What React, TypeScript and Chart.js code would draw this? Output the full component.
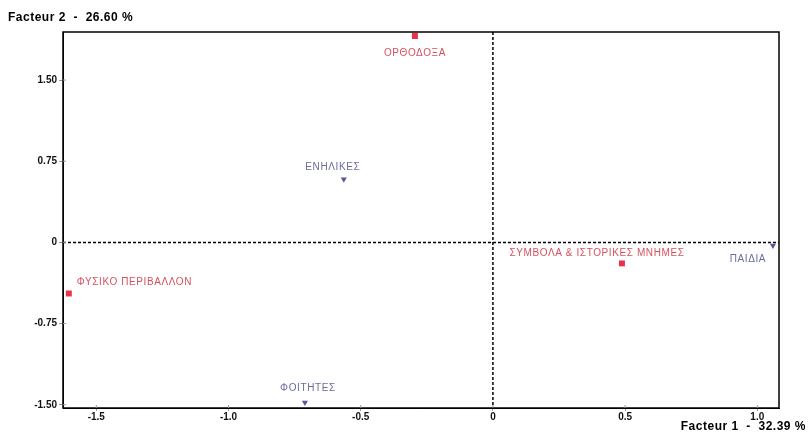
import React, { useEffect, useRef } from "react";
import { Chart, registerables } from "chart.js";
Chart.register(...registerables);

const redLabels = ["ΟΡΘΟΔΟΞΑ", "ΦΥΣΙΚΟ ΠΕΡΙΒΑΛΛΟΝ", "ΣΥΜΒΟΛΑ & ΙΣΤΟΡΙΚΕΣ ΜΝΗΜΕΣ"];
const redX = [-0.295, -1.604, 0.488];
const redY = [1.907, -0.472, -0.194];
const blueLabels = ["ΕΝΗΛΙΚΕΣ", "ΠΑΙΔΙΑ", "ΦΟΙΤΗΤΕΣ"];
const blueX = [-0.564, 1.059, -0.711];
const blueY = [0.583, -0.028, -1.48];
const xTicks = [-1.5, -1.0, -0.5, 0, 0.5, 1.0];
const xTickLabels = ["-1.5", "-1.0", "-0.5", "0", "0.5", "1.0"];
const yTicks = [-1.5, -0.75, 0, 0.75, 1.5];
const yTickLabels = ["-1.50", "-0.75", "0", "0.75", "1.50"];
const xTitle = "Facteur 1  -  32.39 %";
const yTitle = "Facteur 2  -  26.60 %";

// label placement (style): [dx, dy, align]
const redLabelPlace: [number, number, CanvasTextAlign][] = [
  [0, 17, "center"],
  [8, -11, "left"],
  [-25, -10, "center"],
];
const blueLabelPlace: [number, number, CanvasTextAlign][] = [
  [-11, -12, "center"],
  [-25, 14, "center"],
  [3, -14, "center"],
];

const RED = "#e8324c";
const RED_TEXT = "#d8505e";
const BLUE = "#55579a";
const BLUE_TEXT = "#6a6c9e";

export default function App() {
  const ref = useRef<HTMLCanvasElement>(null);
  useEffect(() => {
    document.body.style.margin = "0";
    const overlay = {
      id: "overlay",
      beforeDatasetsDraw(chart: any) {
        const { ctx, chartArea: a, scales } = chart;
        const x0 = scales.x.getPixelForValue(0);
        const y0 = scales.y.getPixelForValue(0);
        ctx.save();
        ctx.strokeStyle = "#000";
        ctx.lineWidth = 1.5;
        ctx.setLineDash([3, 2]);
        ctx.beginPath();
        ctx.moveTo(a.left, y0);
        ctx.lineTo(a.right, y0);
        ctx.moveTo(x0, a.top);
        ctx.lineTo(x0, a.bottom);
        ctx.stroke();
        ctx.setLineDash([]);
        ctx.lineWidth = 1.5;
        ctx.strokeRect(a.left, a.top, a.right - a.left, a.bottom - a.top);
        // small crossing tick marks
        ctx.lineWidth = 1;
        ctx.strokeStyle = "#999";
        ctx.beginPath();
        xTicks.forEach((v) => {
          const px = scales.x.getPixelForValue(v);
          ctx.moveTo(px, a.bottom - 3);
          ctx.lineTo(px, a.bottom);
        });
        yTicks.forEach((v) => {
          const py = scales.y.getPixelForValue(v);
          ctx.moveTo(a.left, py);
          ctx.lineTo(a.left + 3, py);
        });
        ctx.stroke();
        ctx.restore();
      },
      afterDatasetsDraw(chart: any) {
        const { ctx, scales } = chart;
        ctx.save();
        ctx.font = "10px 'Liberation Sans', Arial, sans-serif";
        (ctx as any).letterSpacing = "0.6px";
        ctx.textBaseline = "middle";
        const draw = (labels: string[], xs: number[], ys: number[], place: [number, number, CanvasTextAlign][], color: string) => {
          labels.forEach((t, i) => {
            const px = scales.x.getPixelForValue(xs[i]);
            const py = scales.y.getPixelForValue(ys[i]);
            ctx.fillStyle = color;
            ctx.textAlign = place[i][2];
            ctx.fillText(t, px + place[i][0], py + place[i][1]);
          });
        };
        draw(redLabels, redX, redY, redLabelPlace, RED_TEXT);
        draw(blueLabels, blueX, blueY, blueLabelPlace, BLUE_TEXT);
        ctx.fillStyle = "#000";
        ctx.font = "bold 12px 'Liberation Sans', Arial, sans-serif";
        (ctx as any).letterSpacing = "0.5px";
        ctx.textAlign = "left";
        ctx.fillText(yTitle, 8, 18);
        ctx.textAlign = "right";
        ctx.fillText(xTitle, 806, 427);
        ctx.restore();
      },
    };
    const chart = new Chart(ref.current!, {
      type: "scatter",
      data: {
        datasets: [
          {
            label: "red",
            data: redX.map((x, i) => ({ x, y: redY[i] })),
            pointStyle: "rect",
            pointRadius: 4.2,
            backgroundColor: RED,
            borderColor: RED,
            borderWidth: 0,
            clip: false as any,
          },
          {
            label: "blue",
            data: blueX.map((x, i) => ({ x, y: blueY[i] })),
            pointStyle: "triangle",
            rotation: 180,
            pointRadius: 3.5,
            backgroundColor: BLUE,
            borderColor: BLUE,
            borderWidth: 0,
            clip: false as any,
          },
        ],
      },
      options: {
        animation: false,
        responsive: false,
        layout: { padding: { top: 32, right: 29, left: 0, bottom: 0 } },
        plugins: { legend: { display: false }, tooltip: { enabled: false } },
        scales: {
          x: {
            type: "linear",
            min: -1.626,
            max: 1.082,
            afterBuildTicks: (s: any) => {
              s.ticks = xTicks.map((v) => ({ value: v }));
            },
            afterFit: (s: any) => {
              s.height = 35;
            },
            ticks: {
              callback: (_v: any, i: number) => xTickLabels[i],
              color: "#111",
              font: { family: "'Liberation Sans', Arial, sans-serif", size: 10, weight: "bold" },
              padding: 0,
              maxRotation: 0,
            },
            grid: { drawOnChartArea: false, drawTicks: true, tickLength: 3, color: "#999" },
            border: { display: true, color: "#000" },
          },
          y: {
            type: "linear",
            min: -1.53,
            max: 1.944,
            afterBuildTicks: (s: any) => {
              s.ticks = yTicks.map((v) => ({ value: v }));
            },
            afterFit: (s: any) => {
              s.width = 63;
            },
            ticks: {
              callback: (_v: any, i: number) => yTickLabels[i],
              color: "#111",
              font: { family: "'Liberation Sans', Arial, sans-serif", size: 10, weight: "bold" },
              padding: 2,
            },
            grid: { drawOnChartArea: false, drawTicks: true, tickLength: 4, color: "#999" },
            border: { display: true, color: "#000" },
          },
        },
      },
      plugins: [overlay],
    });
    return () => chart.destroy();
  }, []);
  return <canvas ref={ref} width={808} height={443} style={{ display: "block" }} />;
}
